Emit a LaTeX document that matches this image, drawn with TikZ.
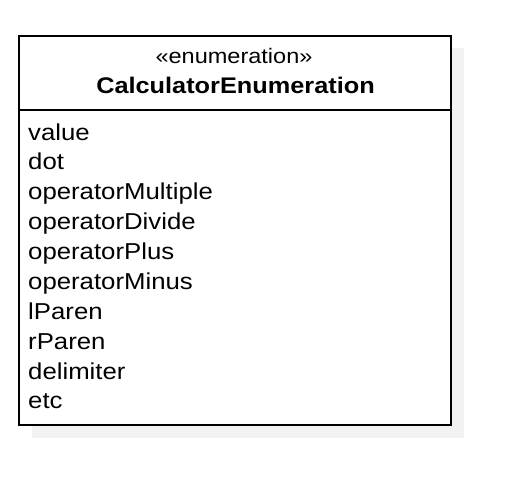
\documentclass[tikz,border=0pt]{standalone}
\usepackage{fontspec}
\setmainfont{Liberation Sans}[FakeStretch=1.12]
\begin{document}
\begin{tikzpicture}[x=1pt,y=-1pt,
  item/.style={anchor=base west,inner sep=0pt,font=\fontsize{23}{27}\selectfont},
  boxline/.style={draw=black,line width=2pt},
  shadowbox/.style={fill=gray!10,draw=none}]
\useasboundingbox (0,0) rectangle (532,490);
\fill[shadowbox] (32,48) rectangle (464,438);
\node[boxline,fill=white,minimum width=432pt,minimum height=389pt,inner sep=0pt,anchor=north west] (cls) at (18,35) {};
\coordinate (sepL) at (18,110);
\coordinate (sepR) at (450,110);
\draw[boxline] (sepL) -- (sepR);
\node[anchor=base,inner sep=0pt,font=\fontsize{21}{25}\selectfont] (st) at (234,63) {«enumeration»};
\node[anchor=base,inner sep=0pt,font=\fontsize{22.6}{27}\selectfont\bfseries] (nm) at (235.5,93) {CalculatorEnumeration};
\node[item] (a1) at (28,140) {value};
\node[item] (a2) at (28,169.5) {dot};
\node[item] (a3) at (28,199) {operatorMultiple};
\node[item] (a4) at (28,229) {operatorDivide};
\node[item] (a5) at (28,259.5) {operatorPlus};
\node[item] (a6) at (28,289) {operatorMinus};
\node[item] (a7) at (28,319) {lParen};
\node[item] (a8) at (28,349.5) {rParen};
\node[item] (a9) at (28,379.5) {delimiter};
\node[item] (a10) at (28,408.5) {etc};
\end{tikzpicture}
\end{document}
